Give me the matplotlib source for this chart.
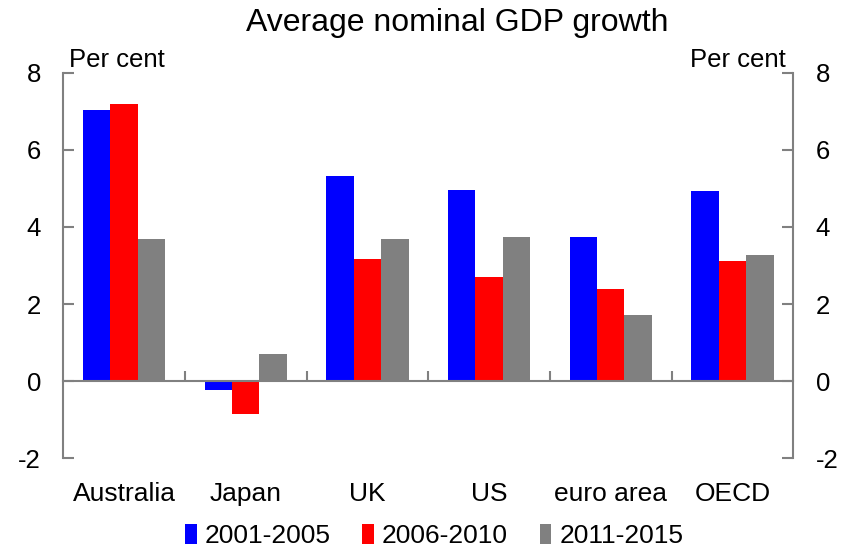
import matplotlib
matplotlib.use("Agg")
import matplotlib.pyplot as plt
import matplotlib.transforms as mtransforms
import numpy as np

plt.rcParams['font.family'] = ['Liberation Sans', 'DejaVu Sans']
plt.rcParams['axes.unicode_minus'] = False

# data
countries = ["Australia", "Japan", "UK", "US", "euro area", "OECD"]
periods = ["2001-2005", "2006-2010", "2011-2015"]
g_2001_2005 = [7.04, -0.22, 5.33, 4.97, 3.74, 4.92]
g_2006_2010 = [7.20, -0.85, 3.17, 2.70, 2.39, 3.12]
g_2011_2015 = [3.69, 0.70, 3.69, 3.74, 1.72, 3.27]
colours = ["#0000ff", "#ff0000", "#808080"]
yticks = [-2, 0, 2, 4, 6, 8]

fig = plt.figure(figsize=(8.51, 5.47), dpi=100)
ax = fig.add_axes([0.0744, 0.1622, 0.8578, 0.7049])

x = np.arange(len(countries))
w = 0.225
for i, (vals, lab) in enumerate(zip([g_2001_2005, g_2006_2010, g_2011_2015], periods)):
    ax.bar(x + (i - 1) * w, vals, width=w, color=colours[i], label=lab, zorder=2)

ax.set_xlim(-0.5, len(countries) - 0.5)
ax.set_ylim(-2, 8)
ax.set_yticks(yticks)

grey = "#808080"
for s in ["left", "right"]:
    ax.spines[s].set_color(grey)
    ax.spines[s].set_linewidth(1.5)
ax.spines["top"].set_visible(False)
ax.spines["bottom"].set_position(("data", 0))
ax.spines["bottom"].set_color(grey)
ax.spines["bottom"].set_linewidth(1.5)
ax.spines["bottom"].set_zorder(3)

ax.set_xticks(np.arange(0.5, len(countries) - 1, 1.0))
ax.tick_params(axis="x", direction="in", length=7, width=1.5, color=grey, labelbottom=False)
ax.tick_params(axis="y", direction="in", length=8, width=1.5, color=grey,
               left=True, right=True, labelleft=True, labelright=True,
               labelsize=18.5, pad=16)

# category labels under the plot
trans = mtransforms.blended_transform_factory(ax.transData, ax.transAxes)
for xi, name in zip(x, countries):
    ax.text(xi, -0.093, name, transform=trans, ha="center", va="center", fontsize=19)

ax.text(0.008, 1.003, "Per cent", transform=ax.transAxes, ha="left", va="bottom", fontsize=18.5)
ax.text(0.99, 1.003, "Per cent", transform=ax.transAxes, ha="right", va="bottom", fontsize=18.5)

fig.text(0.537, 0.958, "Average nominal GDP growth", ha="center", va="center", fontsize=23)

fig.legend(loc="center", bbox_to_anchor=(0.51, 0.02), ncol=3, frameon=False,
           fontsize=19, handlelength=0.45, handleheight=0.75, handletextpad=0.3,
           columnspacing=1.2, borderaxespad=0)

fig.savefig("out.png", dpi=100)
